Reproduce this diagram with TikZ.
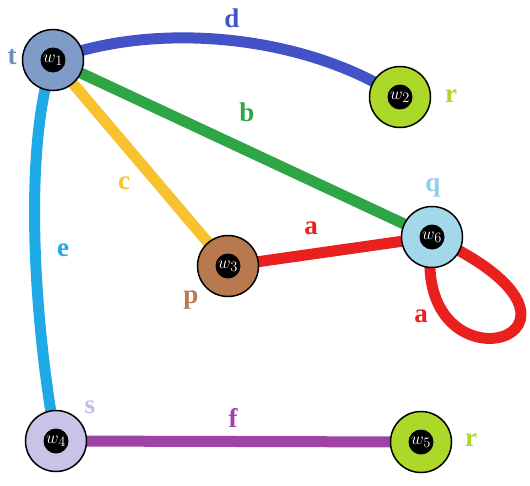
\documentclass[tikz,border=0pt]{standalone}
\usepackage{fontspec}
\setmainfont{Liberation Serif}
\usetikzlibrary{backgrounds}
\definecolor{cd}{HTML}{4352C6}
\definecolor{cb}{HTML}{2FA646}
\definecolor{cc}{HTML}{F7C22E}
\definecolor{ce}{HTML}{1FA9E6}
\definecolor{ca}{HTML}{E8201E}
\definecolor{cf}{HTML}{A043A6}
\definecolor{nw1}{HTML}{7F9CC9}
\definecolor{nlime}{HTML}{ABD829}
\definecolor{nw3}{HTML}{B9794F}
\definecolor{nw6}{HTML}{A2D8EA}
\definecolor{nw4}{HTML}{C9C3E8}
\definecolor{lt}{HTML}{6F8DB8}
\definecolor{lq}{HTML}{8FD0EA}
\definecolor{ls}{HTML}{C2BCE0}
\definecolor{lp}{HTML}{B97A52}
\begin{document}
\begin{tikzpicture}[x=1pt,y=-1pt,
  vert/.style={circle,draw=black,line width=1.5pt,minimum size=61pt,inner sep=0pt},
  core/.style={circle,fill=black,minimum size=25pt,inner sep=0pt,text=white,font=\fontsize{19}{19}\selectfont\itshape},
  edge/.style={line width=11pt},
  lab/.style={font=\fontsize{27}{27}\selectfont\bfseries}]
\useasboundingbox (0,0) rectangle (530,485);
\node[vert,fill=nw1] (w1) at (53,60) {};
\node[vert,fill=nlime] (w2) at (400,97) {};
\node[vert,fill=nw3] (w3) at (228,266) {};
\node[vert,fill=nw6] (w6) at (432,237) {};
\node[vert,fill=nw4] (w4) at (56,441) {};
\node[vert,fill=nlime] (w5) at (421,442) {};
\foreach \n/\i in {w1/1,w2/2,w3/3,w6/6,w4/4,w5/5}
  \node[core] (c\n) at (\n) {$w_{\i}$};
\begin{scope}[on background layer]
\draw[edge,cd] (w1.center) .. controls (150,22) and (300,32) .. (w2.center);
\draw[edge,cb] (w1.center) -- (w6.center);
\draw[edge,cc] (w1.center) -- (w3.center);
\draw[edge,ce] (w1.center) .. controls (22,150) and (35,330) .. (w4.center);
\draw[edge,ca] (w3.center) -- (w6.center);
\draw[edge,ca] (w6.center) .. controls (405,405) and (645,335) .. (w6.center);
\draw[edge,cf] (w4.center) -- (w5.center);
\end{scope}
\node[lab,text=cd] (ld) at (232,18) {d};
\node[lab,text=cb] (lb) at (247,112) {b};
\node[lab,text=cc] (lc) at (124,183) {c};
\node[lab,text=ce] (le) at (63,250) {e};
\node[lab,text=ca] (la1) at (311,228) {a};
\node[lab,text=ca] (la2) at (421,316) {a};
\node[lab,text=cf] (lf) at (233,418) {f};
\node[lab,text=lt] (lt1) at (12,57) {t};
\node[lab,text=nlime] (lr1) at (451,96) {r};
\node[lab,text=lq] (lq1) at (433,188) {q};
\node[lab,text=lp] (lp1) at (191,300) {p};
\node[lab,text=ls] (ls1) at (90,407) {s};
\node[lab,text=nlime] (lr2) at (471,440) {r};
\end{tikzpicture}
\end{document}
